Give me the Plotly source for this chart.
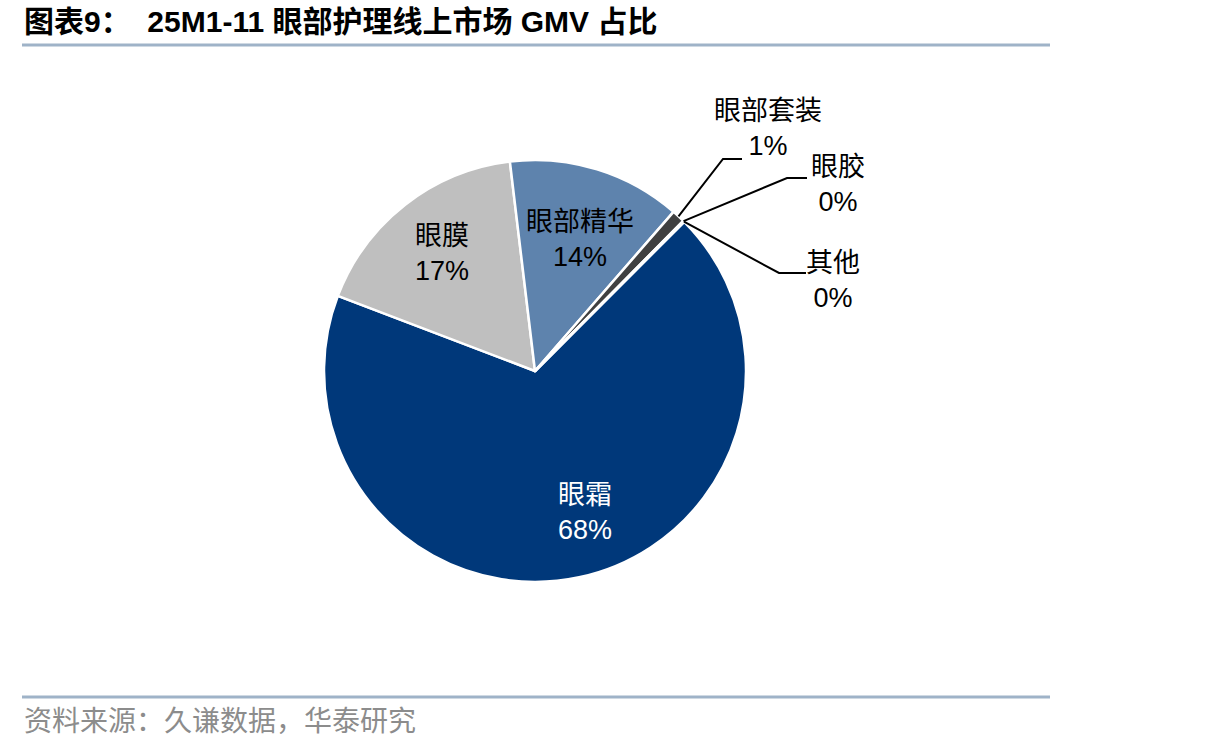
import math
import plotly.graph_objects as go

W, H = 1211, 751

labels = ["眼霜", "眼膜", "眼部精华", "眼部套装", "眼胶", "其他"]
values = [68.3, 17.3, 13.3, 1.0, 0.05, 0.05]
pct_text = ["68%", "17%", "14%", "1%", "0%", "0%"]
colors = ["#00387A", "#BFBFBF", "#5E83AD", "#404040", "#404040", "#404040"]

title = "图表9：  25M1-11 眼部护理线上市场 GMV 占比"
source = "资料来源：久谦数据，华泰研究"

# pie geometry (pixels)
CX, CY, R = 535, 371, 211
ROT = 45

FONT = "Liberation Sans, Noto Sans CJK SC, sans-serif"


def px(x):
    return x / W


def py(y):
    return 1 - y / H


fig = go.Figure()
fig.add_trace(go.Pie(
    labels=labels, values=values, sort=False, direction="clockwise",
    rotation=ROT, textinfo="none", hoverinfo="label+percent",
    marker=dict(colors=colors, line=dict(color="white", width=2.5)),
    domain=dict(x=[px(CX - R), px(CX + R)], y=[py(CY + R), py(CY - R)]),
    showlegend=False,
))

# slice angles (degrees clockwise from 12 o'clock)
total = sum(values)
starts, mids = [], []
a = ROT
for v in values:
    span = v / total * 360
    starts.append(a)
    mids.append(a + span / 2)
    a += span


def edge(i, rf=1.0):
    ang = math.radians(mids[i])
    return CX + R * rf * math.sin(ang), CY - R * rf * math.cos(ang)


annotations = []
shapes = []

# inside labels (label text position in pixels)
inside_pos = {0: (585, 512, "white"), 1: (442, 253, "black"), 2: (580, 240, "black")}
for i, (x, y, c) in inside_pos.items():
    annotations.append(dict(
        x=px(x), y=py(y), xref="paper", yref="paper", showarrow=False,
        text=f"{labels[i]}<br>{pct_text[i]}", align="center",
        font=dict(family=FONT, size=27, color=c), xanchor="center", yanchor="middle",
    ))

# outside labels with leader lines: (elbow x, elbow y, end x, label x, label y)
outside = {3: (723, 159, 742, 768, 128), 4: (787, 178, 807, 838, 184), 5: (779, 273, 806, 833, 281)}
for i, (ex, ey, hx, lx, ly) in outside.items():
    sx, sy = edge(i, 1.0)
    path = f"M {px(sx)},{py(sy)} L {px(ex)},{py(ey)} L {px(hx)},{py(ey)}"
    shapes.append(dict(type="path", xref="paper", yref="paper", path=path,
                       line=dict(color="black", width=2)))
    annotations.append(dict(
        x=px(lx), y=py(ly), xref="paper", yref="paper", showarrow=False,
        text=f"{labels[i]}<br>{pct_text[i]}", align="center",
        font=dict(family=FONT, size=27, color="black"), xanchor="center", yanchor="middle",
    ))

# title & source
annotations.append(dict(x=px(22), y=py(21), xref="paper", yref="paper", showarrow=False,
                        text=f"<b>{title}</b>", xanchor="left", yanchor="middle",
                        font=dict(family=FONT, size=30, color="black")))
annotations.append(dict(x=px(22), y=py(721), xref="paper", yref="paper", showarrow=False,
                        text=source, xanchor="left", yanchor="middle",
                        font=dict(family=FONT, size=28, color="#8C8C8C")))

for yy in (45, 697):
    shapes.append(dict(type="line", xref="paper", yref="paper", x0=px(22), x1=px(1050),
                       y0=py(yy), y1=py(yy), line=dict(color="#9FB3C8", width=3)))

fig.update_layout(
    width=W, height=H, margin=dict(l=0, r=0, t=0, b=0),
    paper_bgcolor="white", plot_bgcolor="white",
    annotations=annotations, shapes=shapes,
)

fig.write_html("out.html")
